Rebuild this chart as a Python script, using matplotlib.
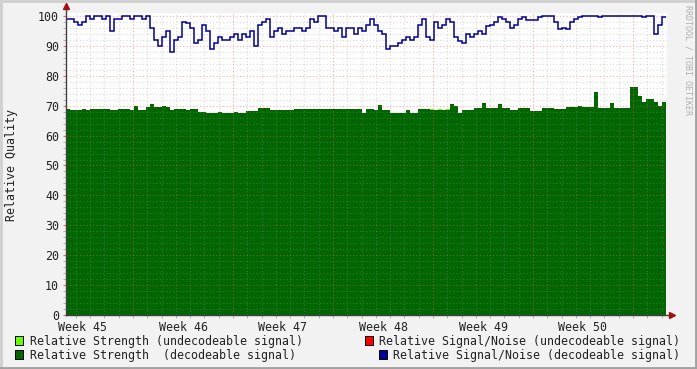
import numpy as np
import matplotlib
matplotlib.use("Agg")
import matplotlib.pyplot as plt
from matplotlib.patches import Rectangle
from matplotlib.lines import Line2D

# 6 weeks sampled in 150 steps
n_days = 42.0
week_labels = ["Week 45", "Week 46", "Week 47", "Week 48", "Week 49", "Week 50"]
first_week_start = 4.69   # days after left edge where week 46 begins

snr_decoded = [
    99, 99, 98, 97, 98, 100, 99, 100, 100, 99,
    100, 95, 99, 99, 100, 100, 99, 100, 100, 99,
    100, 96, 92, 90, 93, 95, 88, 92, 93, 98,
    97.5, 96, 91, 92, 97, 95, 89, 91, 93, 92,
    92, 93, 94, 92, 94, 93, 95, 90, 97, 98,
    99, 93, 95, 96, 94, 95, 95, 96, 96, 95,
    96, 99, 98, 100, 100, 96, 96, 95, 96, 93,
    96, 96, 94, 96, 95, 97, 99, 97, 95, 94,
    89, 90, 90, 91, 92, 93, 92, 93, 97, 99,
    93, 92, 98, 96, 97, 99, 98, 93, 91.5, 91,
    94, 93, 94, 95, 94, 96.5, 97, 98, 99.5, 99,
    98, 96, 97, 99, 99.5, 98.5, 98.5, 98.5, 99.5, 100,
    100, 100, 98, 95.5, 96, 95.5, 98, 99, 99.5, 100,
    100, 100, 100, 99.5, 100, 100, 100, 100, 100, 100,
    100, 100, 100, 100, 99.5, 100, 100, 94, 97, 99.5,
]

strength_decoded = [
    69, 68.5, 68.5, 68.5, 69, 68.5, 69, 69, 69, 69,
    69, 68.5, 68.5, 69, 69, 69, 68.5, 70, 68.5, 68.5,
    69.5, 70.5, 69.5, 69.5, 70, 69.5, 68.5, 68.8, 68.8, 69,
    68.5, 69, 68.8, 68, 68, 67.5, 67.5, 67.5, 68, 67.5,
    67.5, 67.5, 68, 67.5, 67.5, 68.3, 68.3, 68.3, 69.2, 69.2,
    69.2, 68.5, 68.5, 68.5, 68.5, 68.5, 68.5, 68.8, 68.8, 68.8,
    69, 69, 69, 69, 68.8, 68.8, 68.8, 68.8, 68.8, 68.8,
    68.8, 68.8, 68.8, 68.8, 67.7, 69, 69, 68.5, 70.3, 68.5,
    68.5, 67.6, 67.6, 67.6, 67.6, 68.5, 67.6, 67.6, 69, 69,
    69, 68.5, 68.5, 68.5, 68.5, 68.5, 70.5, 70, 67.6, 68.5,
    68.5, 68.5, 69.2, 69.2, 71, 69.2, 69.2, 69.2, 70.5, 69.2,
    69.2, 68.7, 68.7, 69.2, 69.2, 69.2, 68.3, 68.3, 68.3, 69.2,
    69.2, 69.2, 69, 69, 69, 69.5, 69.5, 69.5, 70, 69.5,
    69.5, 69.5, 74.5, 69.2, 69.2, 69.2, 71, 69.2, 69.2, 69.2,
    69.2, 76.4, 76.4, 73.3, 71.4, 72.2, 72.2, 71.4, 70, 71.4,
]

# small undecodeable slivers stacked on top
strength_undecoded = np.zeros(150)
strength_undecoded[[91, 93, 95]] = [0.4, 0.3, 0.4]

edges = np.linspace(0, n_days, len(snr_decoded) + 1)
snr_decoded = np.array(snr_decoded)
strength_decoded = np.array(strength_decoded)

W, H = 697, 369
fig = plt.figure(figsize=(W / 100, H / 100), dpi=100, facecolor="#f2f2f2")
mono = "DejaVu Sans Mono"
fs = 8.35

def fx(x):
    return x / W

def fy(y):
    return 1 - y / H

ax = fig.add_axes([fx(66), fy(315), fx(667) - fx(66), fy(13) - fy(315)])
ax.set_facecolor("white")
ax.set_xlim(0, n_days * 601 / 600)
ax.set_ylim(0, 101)

ax.stairs(strength_decoded, edges, fill=True, color="#006600", zorder=1)
ax.stairs(strength_decoded + strength_undecoded, edges, baseline=strength_decoded,
          fill=True, color="#66ff00", zorder=1)

# grid on top of the data, rrdtool style
minor_col = (0.6, 0.6, 0.6, 0.35)
major_col = (1.0, 0.35, 0.35, 0.5)
for v in range(2, 101, 2):
    c = major_col if v % 10 == 0 else minor_col
    ax.axhline(v, color=c, lw=0.8, ls=(0, (1, 2)), zorder=2)
days = np.arange(first_week_start - 5, n_days, 1.0)
for d in days:
    if d <= 0:
        continue
    is_week = abs(((d - first_week_start) / 7) - round((d - first_week_start) / 7)) < 1e-6
    c = major_col if is_week else minor_col
    ax.axvline(d, color=c, lw=0.8, ls=(0, (1, 2)), zorder=2)

ax.stairs(snr_decoded, edges, baseline=None, color="#000099", lw=1.1, zorder=4)

for s in ax.spines.values():
    s.set_visible(False)

ax.set_yticks(range(0, 101, 10))
ax.set_yticks(range(0, 101, 2), minor=True)
label_pos = [first_week_start - 3.5 + 7 * k for k in range(6)]
ax.set_xticks(label_pos, week_labels)
ax.set_xticks([d for d in days if d > 0], minor=True)
ax.tick_params(axis="x", which="major", length=0, pad=4, labelsize=fs)
ax.tick_params(axis="y", which="major", length=2, pad=3, labelsize=fs, color="#ff6060")
ax.tick_params(which="minor", length=2, color="#aaaaaa")
for lab in ax.get_xticklabels() + ax.get_yticklabels():
    lab.set_fontfamily(mono)
    lab.set_color("#222222")

# axes with arrows
ax.plot([0, 0], [0, 1.03], transform=ax.transAxes, color="#404040", lw=1, clip_on=False, zorder=5)
ax.plot([0, 1.01], [0, 0], transform=ax.transAxes, color="#404040", lw=1, clip_on=False, zorder=5)
ax.plot(0, 1.022, marker="^", ms=4.5, color="#a01010", transform=ax.transAxes, clip_on=False, zorder=6)
ax.plot(1.008, 0, marker=">", ms=4.5, color="#a01010", transform=ax.transAxes, clip_on=False, zorder=6)

fig.text(fx(12), fy(165), "Relative Quality", rotation=90, ha="center", va="center",
         fontsize=fs, family=mono, color="#222222")
fig.text(fx(688), fy(5), "RRDTOOL / TOBI OETIKER", rotation=-90, ha="center", va="top",
         fontsize=6, family=mono, color="#b0b0b0")

# legend
legend = [
    (15, 336, "#66ff00", 30, "left", "Relative Strength (undecodeable signal)"),
    (15, 350, "#006600", 30, "left", "Relative Strength  (decodeable signal)"),
    (365, 336, "#ff0000", 680, "right", "Relative Signal/Noise (undecodeable signal)"),
    (379, 350, "#000099", 680, "right", "Relative Signal/Noise (decodeable signal)"),
]
for bx, by, col, tx, ha, txt in legend:
    fig.patches.append(Rectangle((fx(bx), fy(by + 9)), 8 / W, 9 / H, transform=fig.transFigure,
                                 facecolor=col, edgecolor="black", lw=0.7))
    fig.text(fx(tx), fy(by + 5), txt, ha=ha, va="center", fontsize=fs, family=mono, color="#222222")

# 3d frame
fig.lines.append(Line2D([0, 1], [1 - 1 / H, 1 - 1 / H], transform=fig.transFigure, color="#d0d0d0", lw=2))
fig.lines.append(Line2D([1 / W, 1 / W], [0, 1], transform=fig.transFigure, color="#d0d0d0", lw=2))
fig.lines.append(Line2D([0, 1], [1 / H, 1 / H], transform=fig.transFigure, color="#a0a0a0", lw=2))
fig.lines.append(Line2D([1 - 1 / W, 1 - 1 / W], [0, 1], transform=fig.transFigure, color="#a0a0a0", lw=2))

fig.savefig("out.png", dpi=100, facecolor=fig.get_facecolor())
